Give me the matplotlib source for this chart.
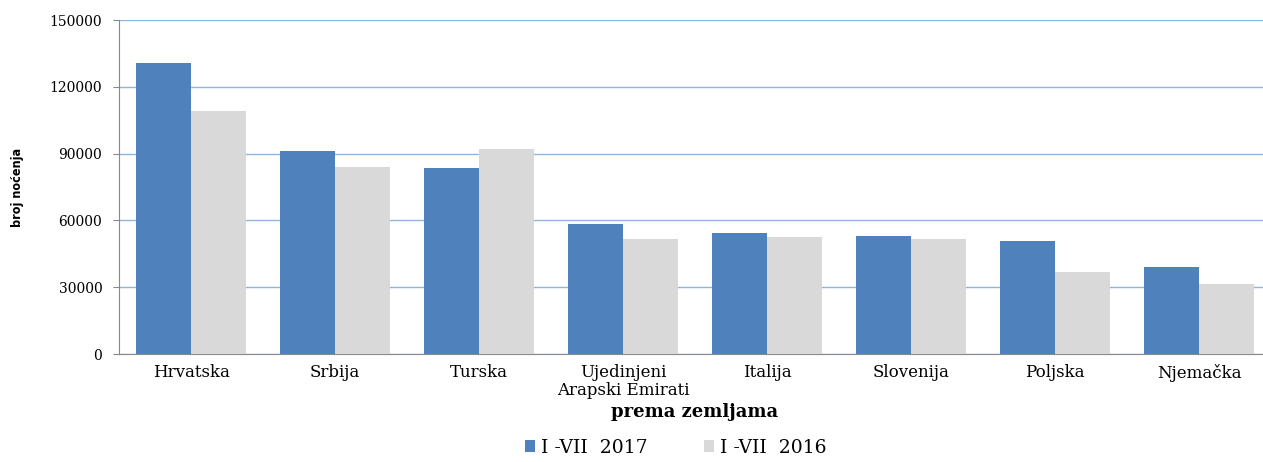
import matplotlib.pyplot as plt
import numpy as np

countries = ['Hrvatska', 'Srbija', 'Turska', 'Ujedinjeni\nArapski Emirati',
             'Italija', 'Slovenija', 'Poljska', 'Njemačka']
nights_2017 = [130700, 91200, 83500, 58400, 54300, 53000, 50800, 39100]
nights_2016 = [109100, 84000, 92100, 51700, 52500, 51600, 36800, 31400]

plt.rcParams['font.family'] = ['DejaVu Serif']

fig = plt.figure(figsize=(12.63, 4.62), dpi=100)
ax = fig.add_axes([119 / 1263, 108 / 462, 1152 / 1263, 334 / 462])

x = np.arange(len(countries))
w = 0.38
ax.bar(x - w / 2, nights_2017, w, color='#4F81BD', label='I -VII  2017', zorder=3)
ax.bar(x + w / 2, nights_2016, w, color='#D9D9D9', label='I -VII  2016', zorder=3)

ax.set_ylim(0, 150000)
ax.set_xlim(-0.5, 7.5)
ax.set_yticks(range(0, 150001, 30000))
ax.yaxis.grid(True, color='#8EB4E3', linewidth=1, zorder=0)
ax.set_xticks(x)
ax.set_xticklabels(countries, fontsize=12, linespacing=1.1)
ax.tick_params(axis='x', length=0, pad=7)
ax.tick_params(axis='y', labelsize=10, length=4, color='#888888', pad=8)
for s in ['top', 'right']:
    ax.spines[s].set_visible(False)
ax.spines['bottom'].set_color('#888888')
ax.spines['left'].set_color('#888888')

ax.set_ylabel('broj noćenja', family=['DejaVu Sans'], stretch='condensed',
              fontsize=9, fontweight='bold')
ax.yaxis.set_label_coords(-95 / 1152, 0.5)
ax.set_xlabel('prema zemljama', fontsize=13, fontweight='bold', labelpad=3)

fig.legend(loc='lower center', bbox_to_anchor=(0.535, -0.025), ncol=2, frameon=False,
           fontsize=13.5, handlelength=0.55, handleheight=0.55, columnspacing=3.0,
           handletextpad=0.3)

fig.savefig('out.png', dpi=100)
